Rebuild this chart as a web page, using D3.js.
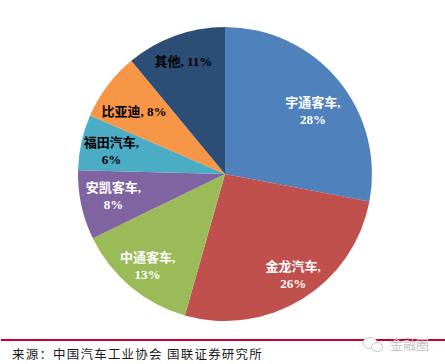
<!DOCTYPE html>
<html>
<head>
<meta charset="utf-8">
<script src="https://cdn.jsdelivr.net/npm/d3@7"></script>
<style>
	html, body { margin: 0; padding: 0; background: #fff; }
	svg { display: block; }
	text { font-family: "Liberation Serif", "Noto Sans CJK SC", serif; }
</style>
</head>
<body>
<div id="chart"></div>
<script>
	// Data, clockwise from 12 o'clock.
	// The slices are a little off the printed percentages, so both are kept.
	const names = ["宇通客车", "金龙汽车", "中通客车", "安凯客车", "福田汽车", "比亚迪", "其他"];
	const shares = [28, 26.4, 13.4, 7.6, 6.1, 7.5, 11];
	const printedShares = [28, 26, 13, 8, 6, 8, 11];
	const sourceText = "来源：中国汽车工业协会 国联证券研究所";
	const watermark = "金融圈";

	// Styles and label placement, kept apart from the data
	const colors = ["#4f81bd", "#c0504d", "#9bbb59", "#8064a2", "#4bacc6", "#f79646", "#2c4d75"];
	const labelColors = ["#fff", "#fff", "#fff", "#fff", "#000", "#000", "#000"];
	const oneLine = [false, false, false, false, false, true, true];
	const nudges = [[7, 4], [13, 12], [-10, 12], [-9, 0], [-11, 0], [-7, 1], [-6, -14]];

	const width = 445;
	const height = 364;
	const radius = 147;
	const center = [225, 174];

	const svg = d3.select("#chart").append("svg")
		.attr("width", width)
		.attr("height", height);

	const pie = d3.pie().sort(null).value(function(d) { return d; });
	const arc = d3.arc().innerRadius(0).outerRadius(radius);
	const labelArc = d3.arc().innerRadius(105).outerRadius(105);

	const slices = svg.append("g")
		.attr("transform", "translate(" + center[0] + "," + center[1] + ")")
		.selectAll("g")
		.data(pie(shares))
		.enter()
		.append("g");

	slices.append("path")
		.attr("d", arc)
		.attr("fill", function(d, i) { return colors[i]; });

	// Labels
	slices.append("text")
		.attr("transform", function(d, i) {
			const c = labelArc.centroid(d);
			return "translate(" + (c[0] + nudges[i][0]) + "," + (c[1] + nudges[i][1]) + ")";
		})
		.attr("text-anchor", "middle")
		.attr("font-size", 13)
		.attr("font-weight", "bold")
		.attr("fill", function(d, i) { return labelColors[i]; })
		.each(function(d, i) {
			const label = d3.select(this);
			if (oneLine[i]) {
				label.append("tspan")
					.attr("x", 0)
					.attr("y", 4.5)
					.text(names[i] + ", " + printedShares[i] + "%");
			} else {
				label.append("tspan")
					.attr("x", 0)
					.attr("y", -4)
					.text(names[i] + ",");
				label.append("tspan")
					.attr("x", 0)
					.attr("y", 13)
					.text(printedShares[i] + "%");
			}
		});

	// Footer rule and source
	svg.append("line")
		.attr("x1", 1)
		.attr("x2", width)
		.attr("y1", 340)
		.attr("y2", 340)
		.attr("stroke", "#c8002e")
		.attr("stroke-width", 2);

	svg.append("text")
		.attr("x", 12)
		.attr("y", 359)
		.attr("font-size", 12.5)
		.attr("letter-spacing", 1.2)
		.attr("fill", "#1a1a1a")
		.text(sourceText);

	// Watermark
	const mark = svg.append("g")
		.attr("fill", "#fff")
		.attr("stroke", "#c8c8c8")
		.attr("stroke-width", 1);
	mark.append("ellipse").attr("cx", 370).attr("cy", 343).attr("rx", 7).attr("ry", 5.5);
	mark.append("ellipse").attr("cx", 377).attr("cy", 347).attr("rx", 5.5).attr("ry", 4.5);

	svg.append("text")
		.attr("x", 390)
		.attr("y", 349)
		.attr("font-size", 13)
		.attr("fill", "#c4c4c4")
		.text(watermark);
</script>
</body>
</html>
